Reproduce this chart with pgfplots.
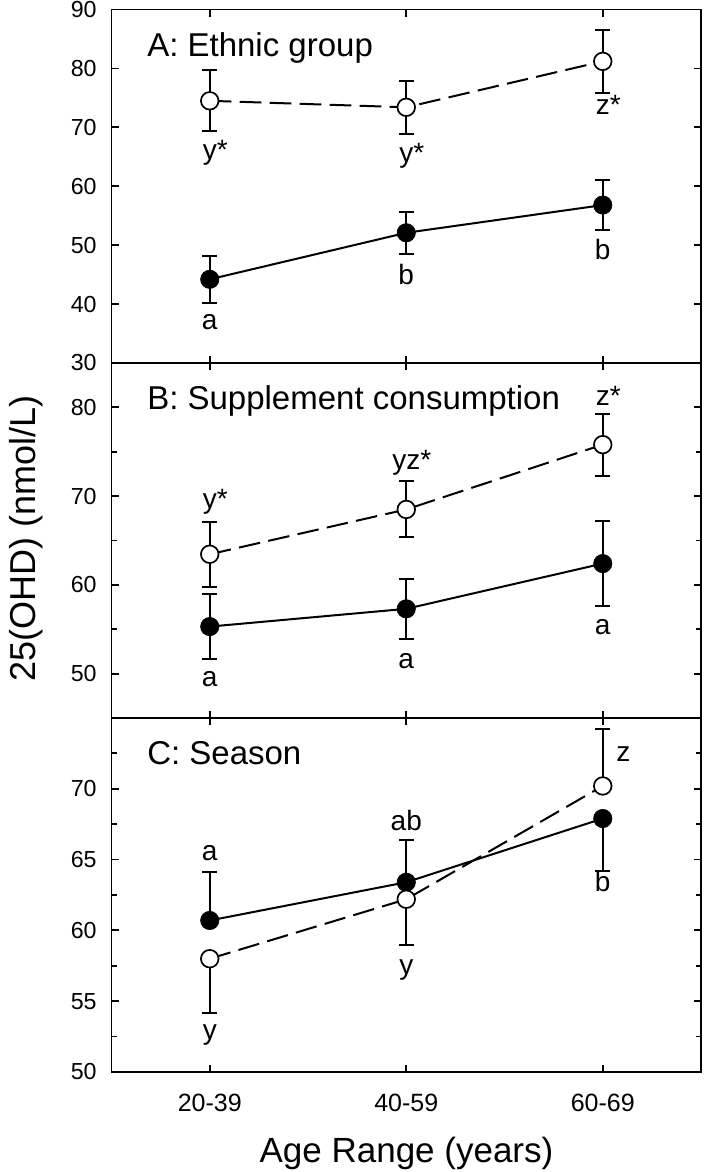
\documentclass[border=0pt]{standalone}
\usepackage{pgfplots}
\pgfplotsset{compat=1.18}
\usepackage{fontspec}
\setmainfont{Liberation Sans}

\pgfplotsset{
  panel/.style={
    scale only axis,
    width=294.75pt,
    xmin=-0.5, xmax=2.5,
    xtick={0,1,2},
    xticklabels={},
    tick align=inside,
    axis line style={line width=0.9pt},
    every tick/.style={line width=0.9pt, black},
    major tick length=3.6pt,
    minor tick length=2.5pt,
    /pgf/number format/assume math mode=true,
    yticklabel style={font=\fontsize{11.6}{12}\selectfont, anchor=east, inner sep=0pt, xshift=-7.25pt},
    clip=false,
  },
  errs/.style={
    error bars/.cd, y dir=both, y explicit,
    error bar style={line width=1pt, solid},
    error mark options={rotate=90, mark size=3.7pt, line width=1pt, solid},
  },
  filledS/.style={black, solid, line width=1pt, mark=*, mark size=4.6pt,
    mark options={solid, fill=black, draw=black, line width=0.3pt}, errs},
  openS/.style={black, line width=1pt, dash pattern=on 10.8pt off 4.2pt, mark=*, mark size=4.4pt,
    mark options={solid, fill=white, draw=black, line width=0.85pt}, errs},
}
\tikzset{
  lab/.style={anchor=base, inner sep=0pt, font=\fontsize{14}{14}\selectfont},
  ttl/.style={anchor=base west, inner sep=0pt, font=\fontsize{16.5}{17}\selectfont},
}

\begin{document}
\begin{tikzpicture}
\path[use as bounding box] (0,0) rectangle (351.5pt,586pt);

% Panel A
\begin{axis}[panel, at={(55.75pt,404.5pt)}, anchor=south west, height=176.75pt,
  ymin=30, ymax=90, ytick={30,40,50,60,70,80,90}]
\addplot+[filledS] coordinates {(0,44.2) +- (0,4.0) (1,52.1) +- (0,3.55) (2,56.8) +- (0,4.3)};
\addplot+[openS] coordinates {(0,74.5) +- (0,5.2) (1,73.4) +- (0,4.5) (2,81.2) +- (0,5.3)};
\node[ttl] at (rel axis cs:0.06,0.868) {A: Ethnic group};
\node[lab] at (axis cs:0,64.5) {y\rlap{*}};
\node[lab] at (axis cs:1,64.06) {y\rlap{*}};
\node[lab] at (axis cs:2,72.1) {z\rlap{*}};
\node[lab] at (axis cs:0,35.6) {a};
\node[lab] at (axis cs:1,43.24) {b};
\node[lab] at (axis cs:2,47.5) {b};
\end{axis}

% Panel B
\begin{axis}[panel, at={(55.75pt,227pt)}, anchor=south west, height=177.5pt,
  ymin=45, ymax=85, ytick={50,60,70,80}, minor ytick={55,65,75}]
\addplot+[filledS] coordinates {(0,55.3) +- (0,3.65) (1,57.3) +- (0,3.4) (2,62.4) +- (0,4.8)};
\addplot+[openS] coordinates {(0,63.45) +- (0,3.65) (1,68.5) +- (0,3.15) (2,75.8) +- (0,3.5)};
\node[ttl] at (rel axis cs:0.06,0.868) {B: Supplement consumption};
\node[lab] at (axis cs:0,68.55) {y\rlap{*}};
\node[lab] at (axis cs:1,73.0) {yz\rlap{*}};
\node[lab] at (axis cs:2,80.25) {z\rlap{*}};
\node[lab] at (axis cs:0,48.55) {a};
\node[lab] at (axis cs:1,50.6) {a};
\node[lab] at (axis cs:2,54.4) {a};
\end{axis}

% Panel C
\begin{axis}[panel, at={(55.75pt,50pt)}, anchor=south west, height=177pt,
  ymin=50, ymax=75, ytick={50,55,60,65,70}, minor ytick={52.5,57.5,62.5,67.5,72.5},
  xticklabels={20-39,40-59,60-69},
  xticklabel style={font=\fontsize{12.5}{13}\selectfont, anchor=base, inner sep=0pt, yshift=-20pt}]
\addplot+[filledS] coordinates {(0,60.7) += (0,3.4) -= (0,0) (1,63.4) += (0,3.0) -= (0,0) (2,67.9) += (0,0) -= (0,3.7)};
\addplot+[openS] coordinates {(0,58.0) += (0,0) -= (0,3.8) (1,62.2) += (0,0) -= (0,3.25) (2,70.2) += (0,4.0) -= (0,0)};
\node[ttl] at (rel axis cs:0.06,0.868) {C: Season};
\node[lab] at (axis cs:0,64.96) {a};
\node[lab] at (axis cs:0,52.33) {y};
\node[lab] at (axis cs:1,67.08) {ab};
\node[lab] at (axis cs:1,56.9) {y};
\node[lab] at (axis cs:2.105,71.9) {z};
\node[lab] at (axis cs:2,62.72) {b};
\end{axis}

\node[rotate=90, anchor=base, inner sep=0pt, font=\fontsize{18}{18}\selectfont] at (17.5pt,316.75pt) {25(OHD) (nmol/L)};
\node[anchor=base, inner sep=0pt, font=\fontsize{17.5}{18}\selectfont] at (203.25pt,5pt) {Age Range (years)};
\end{tikzpicture}
\end{document}
